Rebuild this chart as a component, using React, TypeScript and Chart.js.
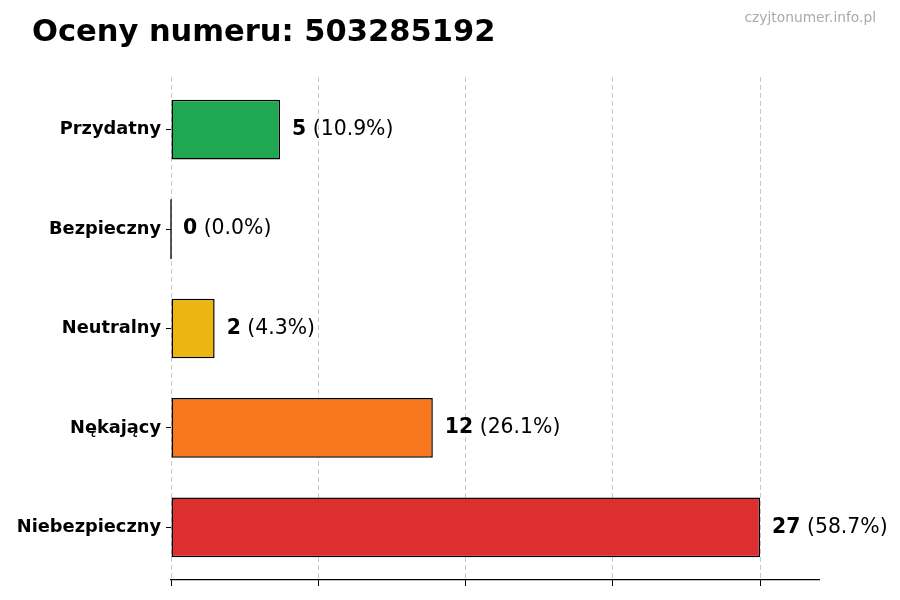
import { useEffect, useRef } from 'react';
import { Chart, registerables } from 'chart.js';

Chart.register(...registerables);

const categories = ['Przydatny', 'Bezpieczny', 'Neutralny', 'Nękający', 'Niebezpieczny'];
const counts = [5, 0, 2, 12, 27];
const barColors = [
  'rgba(22, 163, 74, 0.96)',
  'rgba(37, 99, 235, 0.96)',
  'rgba(234, 179, 8, 0.96)',
  'rgba(249, 115, 22, 0.96)',
  'rgba(220, 38, 38, 0.96)',
];
const xTicks = [0, 6.75, 13.5, 20.25, 27];
const xMax = 29.7;
const yMin = -0.53;
const yMax = 4.53;

const titleText = 'Oceny numeru: 503285192';
const watermark = 'czyjtonumer.info.pl';
const FONT = '"DejaVu Sans", sans-serif';

// title, watermark, value labels and the edge of empty bars
const annotatePlugin = {
  id: 'annotate',
  afterDatasetsDraw: (chart: any) => {
    const { ctx } = chart;
    const total = counts.reduce((a, b) => a + b, 0);
    const meta = chart.getDatasetMeta(0);

    ctx.save();
    meta.data.forEach((bar: any, i: number) => {
      if (counts[i] === 0) {
        ctx.strokeStyle = '#000';
        ctx.lineWidth = 1.3;
        ctx.beginPath();
        ctx.moveTo(bar.base, bar.y - bar.height / 2);
        ctx.lineTo(bar.base, bar.y + bar.height / 2);
        ctx.stroke();
      }
    });

    ctx.textBaseline = 'middle';
    ctx.textAlign = 'left';
    ctx.fillStyle = '#000';
    meta.data.forEach((bar: any, i: number) => {
      const x = bar.x + 12;
      const y = bar.y;
      ctx.font = `bold 20.4px ${FONT}`;
      const countText = String(counts[i]);
      ctx.fillText(countText, x, y);
      const w = ctx.measureText(countText).width;
      ctx.font = `20.4px ${FONT}`;
      const pct = total ? (counts[i] / total) * 100 : 0;
      ctx.fillText(` (${pct.toFixed(1)}%)`, x + w, y);
    });

    ctx.textBaseline = 'alphabetic';
    ctx.font = `bold 30.5px ${FONT}`;
    ctx.fillText(titleText, 32, 41);

    ctx.font = `13.8px ${FONT}`;
    ctx.fillStyle = '#aaaaaa';
    ctx.textAlign = 'right';
    ctx.fillText(watermark, 876, 22);
    ctx.restore();
  },
};

export default function App() {
  const canvasRef = useRef<HTMLCanvasElement | null>(null);

  useEffect(() => {
    if (!canvasRef.current) return;
    const chart = new Chart(canvasRef.current, {
      type: 'bar',
      data: {
        datasets: [
          {
            data: counts.map((c, i) => ({ x: c, y: i })),
            backgroundColor: barColors,
            borderColor: '#000',
            borderWidth: 1.5,
            borderSkipped: false,
            barPercentage: 0.6,
            categoryPercentage: 1,
          },
        ],
      },
      options: {
        indexAxis: 'y',
        responsive: false,
        animation: false,
        layout: { padding: { top: 77, right: 81, left: 0, bottom: 0 } },
        plugins: {
          legend: { display: false },
          tooltip: { enabled: false },
        },
        scales: {
          x: {
            type: 'linear',
            offset: false,
            min: 0,
            max: xMax,
            afterBuildTicks: (scale: any) => {
              scale.ticks = xTicks.map((v) => ({ value: v }));
            },
            afterFit: (scale: any) => {
              scale.height = 20;
            },
            ticks: { display: false },
            grid: {
              offset: false,
              color: '#c8c8c8',
              lineWidth: 1,
              tickColor: '#000',
              tickLength: 6,
              tickWidth: 1,
            },
            border: { display: true, color: '#000', width: 1.2, dash: [5, 3] },
          },
          y: {
            type: 'linear',
            offset: false,
            reverse: true,
            min: yMin,
            max: yMax,
            afterBuildTicks: (scale: any) => {
              scale.ticks = categories.map((_, i) => ({ value: i }));
            },
            afterFit: (scale: any) => {
              scale.width = 171;
            },
            ticks: {
              color: '#000',
              font: { family: FONT, size: 17.8, weight: 'bold' },
              padding: 5,
              callback: (v: any) => categories[Number(v)] ?? '',
            },
            grid: {
              offset: false,
              drawOnChartArea: false,
              drawTicks: true,
              tickLength: 5,
              tickColor: '#000',
              color: '#000',
            },
            border: { display: false },
          },
        },
      } as any,
      plugins: [annotatePlugin],
    });

    return () => {
      chart.destroy();
    };
  }, []);

  return (
    <div style={{ position: 'absolute', left: 0, top: 0, width: 900, height: 600, background: '#fff' }}>
      <canvas ref={canvasRef} width={900} height={600} />
    </div>
  );
}
